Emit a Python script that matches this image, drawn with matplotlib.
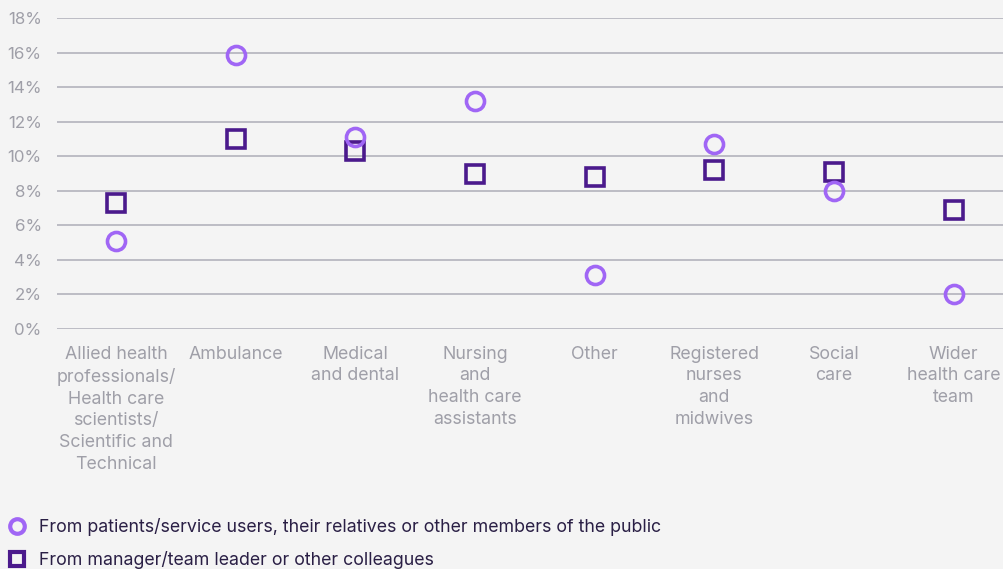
import matplotlib
matplotlib.use("Agg")
import matplotlib.pyplot as plt
from matplotlib.lines import Line2D
from matplotlib.ticker import FuncFormatter

categories = [
    "Allied health\nprofessionals/\nHealth care\nscientists/\nScientific and\nTechnical",
    "Ambulance",
    "Medical\nand dental",
    "Nursing\nand\nhealth care\nassistants",
    "Other",
    "Registered\nnurses\nand\nmidwives",
    "Social\ncare",
    "Wider\nhealth care\nteam",
]
public_values = [5.1, 15.9, 11.1, 13.2, 3.1, 10.7, 8.0, 2.0]
colleague_values = [7.3, 11.0, 10.3, 9.0, 8.8, 9.2, 9.1, 6.9]
series_labels = [
    "From patients/service users, their relatives or other members of the public",
    "From manager/team leader or other colleagues",
]
yticks = [0, 2, 4, 6, 8, 10, 12, 14, 16, 18]

BG = "#f4f4f4"
GRID = "#b2b2bc"
TICK = "#9f9fa8"
LIGHT = "#a066f5"
DARK = "#4b1a8c"
FONT = ["Inter", "DejaVu Sans"]

plt.rcParams["font.family"] = FONT

fig = plt.figure(figsize=(10.04, 5.69), dpi=100, facecolor=BG)
ax = fig.add_axes([57 / 1004, 1 - 329 / 569, 1 - 57 / 1004, (329 - 18.3) / 569])
ax.set_facecolor(BG)

x = list(range(len(categories)))
ax.set_ylim(0, 18)
ax.set_xlim(-0.493, 7.42)
ax.set_yticks(yticks)
ax.yaxis.set_major_formatter(FuncFormatter(lambda v, p: f"{int(v)}%"))
ax.grid(axis="y", color=GRID, linewidth=1.2)
ax.set_axisbelow(True)
for s in ax.spines.values():
    s.set_visible(False)
ax.tick_params(axis="both", length=0, colors=TICK)
ax.tick_params(axis="y", pad=11, labelsize=12.2)
ax.tick_params(axis="x", pad=12, labelsize=12.8)
ax.set_xticks(x)
ax.set_xticklabels(categories, linespacing=1.37)

ax.plot(x, colleague_values, linestyle="none", marker="s", markersize=12.5,
        markerfacecolor="none", markeredgecolor=DARK, markeredgewidth=2.6, zorder=3)
ax.plot(x, public_values, linestyle="none", marker="o", markersize=13,
        markerfacecolor="none", markeredgecolor=LIGHT, markeredgewidth=2.6, zorder=4)

handles = [
    Line2D([], [], linestyle="none", marker="o", markersize=10.5, markerfacecolor="none",
           markeredgecolor=LIGHT, markeredgewidth=3),
    Line2D([], [], linestyle="none", marker="s", markersize=10.5, markerfacecolor="none",
           markeredgecolor=DARK, markeredgewidth=3),
]
leg = fig.legend(handles, series_labels, loc="upper left",
                 bbox_to_anchor=(0.0028, 1 - 513 / 569), frameon=False,
                 fontsize=12.8, labelspacing=0.85, handlelength=1.0,
                 handletextpad=0.74, borderaxespad=0, borderpad=0.3)
for t in leg.get_texts():
    t.set_color("#2a1f45")

fig.savefig("out.png", dpi=100, facecolor=BG)
